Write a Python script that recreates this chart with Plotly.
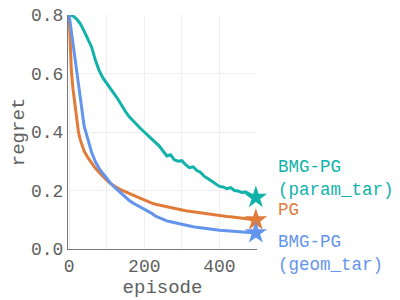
import plotly.graph_objects as go

episodes = [0, 3, 6, 10, 15, 20, 25, 30, 40, 50, 60, 70, 80, 90, 100, 110, 120, 130, 140, 150,
            160, 170, 180, 190, 200, 210, 220, 230, 240, 250, 260, 270, 280, 290, 300, 310, 320,
            330, 340, 350, 360, 370, 380, 390, 400, 410, 420, 430, 440, 450, 460, 470, 480, 490, 497]

bmg_param = [0.800, 0.800, 0.799, 0.797, 0.793, 0.786, 0.778, 0.770, 0.745, 0.720, 0.690, 0.645,
             0.610, 0.585, 0.568, 0.548, 0.530, 0.512, 0.490, 0.470, 0.452, 0.438, 0.425, 0.412,
             0.400, 0.388, 0.376, 0.362, 0.352, 0.335, 0.318, 0.322, 0.305, 0.300, 0.302, 0.288,
             0.278, 0.281, 0.268, 0.262, 0.248, 0.240, 0.232, 0.222, 0.214, 0.212, 0.206, 0.210,
             0.200, 0.198, 0.193, 0.195, 0.188, 0.182, 0.176]

pg = [0.800, 0.700, 0.610, 0.550, 0.500, 0.440, 0.398, 0.372, 0.335, 0.312, 0.292, 0.276, 0.262,
      0.248, 0.235, 0.224, 0.215, 0.208, 0.201, 0.195, 0.189, 0.184, 0.178, 0.173, 0.168, 0.162,
      0.157, 0.153, 0.150, 0.147, 0.144, 0.141, 0.139, 0.136, 0.133, 0.131, 0.129, 0.127, 0.125,
      0.124, 0.122, 0.120, 0.118, 0.116, 0.115, 0.113, 0.111, 0.110, 0.108, 0.106, 0.105, 0.103,
      0.101, 0.100, 0.099]

bmg_geom = [0.800, 0.770, 0.740, 0.715, 0.660, 0.600, 0.555, 0.515, 0.420, 0.370, 0.330, 0.298,
            0.275, 0.258, 0.240, 0.226, 0.212, 0.200, 0.188, 0.176, 0.166, 0.157, 0.150, 0.143,
            0.135, 0.128, 0.122, 0.112, 0.106, 0.101, 0.096, 0.093, 0.090, 0.086, 0.083, 0.080,
            0.078, 0.076, 0.074, 0.072, 0.070, 0.068, 0.067, 0.065, 0.064, 0.063, 0.062, 0.061,
            0.060, 0.059, 0.058, 0.057, 0.056, 0.055, 0.055]

series = [
    ("BMG-PG<br>(param_tar)", bmg_param, "#10B2AA", 0.30),
    ("PG", pg, "#E07B39", 0.167),
    ("BMG-PG<br>(geom_tar)", bmg_geom, "#6495ED", -0.02),
]

FONT = "Liberation Mono, Courier New, monospace"

fig = go.Figure()
for name, vals, color, ly in series:
    fig.add_trace(go.Scatter(x=episodes, y=vals, mode="lines", line=dict(color=color, width=3),
                             showlegend=False, hoverinfo="skip"))
    fig.add_trace(go.Scatter(x=[episodes[-1]], y=[vals[-1]], mode="markers",
                             marker=dict(symbol="star", size=17, color=color),
                             cliponaxis=False, showlegend=False))
    fig.add_annotation(x=1.10, y=ly, xref="paper", yref="paper", text=name, showarrow=False,
                       xanchor="left", yanchor="middle", align="left",
                       font=dict(family=FONT, size=17.5, color=color))

fig.update_layout(
    width=400, height=300,
    margin=dict(l=68, r=143, t=15, b=51),
    paper_bgcolor="white", plot_bgcolor="white",
    font=dict(family=FONT, size=18, color="#606060"),
    xaxis=dict(range=[-3, 500], tickvals=[0, 200, 400], showline=True, linecolor="#777777",
               linewidth=1, showgrid=True, gridcolor="#EEEEEE", zeroline=False, automargin=False,
               ticks="", ticklabeloverflow="allow",
               title=dict(text="episode", standoff=0, font=dict(size=19)),
               minor=dict(dtick=100, showgrid=True, gridcolor="#EEEEEE")),
    yaxis=dict(range=[0, 0.8], tickvals=[0, 0.2, 0.4, 0.6, 0.8], tickformat=".1f", showline=True,
               linecolor="#777777", linewidth=1, showgrid=True, gridcolor="#EEEEEE", zeroline=False,
               automargin=False, ticks="", ticklabeloverflow="allow",
               title=dict(text="regret", standoff=1, font=dict(size=19))),
)

fig.write_html("out.html", config={"displayModeBar": False},
               post_script="document.body.style.margin='0';")
